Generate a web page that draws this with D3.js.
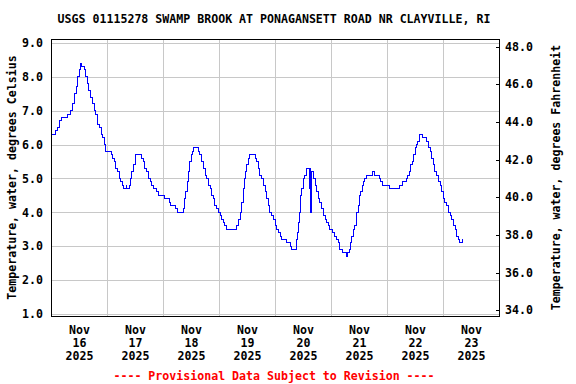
<!DOCTYPE html>
<html lang="en">
<head>
  <meta charset="UTF-8">
  <title>USGS 01115278 Swamp Brook water temperature</title>
  <style>
    body {
      margin: 0;
      background: #fff;
    }
    svg text {
      font-family: "DejaVu Sans Mono", monospace;
      font-weight: bold;
      font-size: 11.6px;
      fill: #000;
    }
    .grid line {
      stroke: #c8c8c8;
      stroke-width: 1;
      shape-rendering: crispEdges;
    }
    .axis path, .axis line {
      stroke: #000;
      shape-rendering: crispEdges;
    }
  </style>
</head>
<body>
  <div id="chart"></div>

  <script src="https://d3js.org/d3.v7.min.js"></script>
  <script>
    // readings, hours after Nov 16 2025 00:00, and water temperature in deg C
    const hoursFromStart = [
      0, 0.25, 1.75, 2.75, 3.5, 3.75, 4.5, 7.25, 8.5, 9.25, 10, 10.75, 11.5, 12, 12.75,
      13.25, 14.25, 14.75, 15.75, 16.25, 17, 17.75, 18.5, 19.25, 19.75, 20.75, 21.5, 22.25,
      22.75, 23.5, 25.75, 26.5, 27, 27.75, 28.5, 29.25, 29.75, 30.5, 31.25, 32.25, 32.5,
      33.5, 34.25, 34.5, 35.25, 36.25, 38.75, 39.75, 40.25, 41, 41.75, 42.5, 43.25, 43.75,
      45, 46, 48.75, 50.75, 51.25, 53.25, 54.25, 56.75, 57.25, 57.75, 58.5, 58.75, 59.5,
      60.25, 60.75, 61.25, 63, 63.75, 64.5, 65.25, 66, 66.75, 67.5, 68.25, 68.75, 69.5,
      70.25, 71, 71.75, 72.5, 73.25, 73.75, 74.5, 75.25, 79.5, 80.25, 81, 81.75, 82.5,
      82.75, 83.5, 83.75, 84.5, 85.25, 87.5, 88.25, 88.75, 89.5, 90.25, 91, 91.75, 92.5,
      93.25, 93.75, 94.5, 95.25, 96, 96.75, 97.5, 98.25, 98.75, 101, 102.5, 103.25, 105,
      105.5, 106, 106.5, 107, 107.5, 108.25, 108.75, 109.5, 110.75, 111, 111.25, 111.5,
      112.5, 113.25, 113.75, 114.5, 115.25, 116, 116.75, 117.5, 118.25, 118.75, 119.5,
      120.75, 121.5, 122.25, 123.25, 123.75, 125, 126.5, 127.25, 127.75, 128.5, 128.75,
      129.5, 130, 130.75, 131, 131.75, 132.25, 132.75, 133.5, 133.75, 134.5, 135.25,
      137.75, 138.75, 140.75, 141.25, 142, 145, 149.25, 150.75, 152.25, 152.75, 153.5,
      154.25, 154.75, 155.25, 156, 156.75, 157.25, 157.75, 159.25, 161, 161.75, 162.5,
      163.25, 163.75, 164.5, 165.25, 166, 166.75, 167.5, 168.25, 168.75, 169.5, 170.25,
      171, 171.75, 172.5, 173.25, 173.75, 174.5, 175.25, 176.25
    ];
    const tempC = [
      6.2, 6.3, 6.4, 6.5, 6.6, 6.7, 6.8, 6.9, 7.0, 7.2, 7.5, 7.7, 8.0, 8.2, 8.4,
      8.3, 8.2, 8.0, 7.8, 7.6, 7.4, 7.2, 7.0, 6.9, 6.6, 6.5, 6.3, 6.2,
      6.0, 5.8, 5.7, 5.6, 5.5, 5.3, 5.2, 5.0, 4.9, 4.8, 4.7, 4.8, 4.7,
      4.8, 5.0, 5.2, 5.4, 5.7, 5.6, 5.5, 5.3, 5.2, 5.0, 4.9, 4.8, 4.7,
      4.6, 4.5, 4.4, 4.3, 4.2, 4.1, 4.0, 4.1, 4.4, 4.6, 4.9, 5.2, 5.5,
      5.7, 5.8, 5.9, 5.8, 5.7, 5.5, 5.3, 5.1, 5.0, 4.8, 4.7, 4.5, 4.4,
      4.2, 4.1, 4.0, 3.9, 3.8, 3.7, 3.6, 3.5, 3.6, 3.8, 4.0, 4.3, 4.7,
      5.0, 5.2, 5.4, 5.6, 5.7, 5.6, 5.5, 5.3, 5.1, 5.0, 4.8, 4.6, 4.4,
      4.2, 4.0, 3.9, 3.8, 3.6, 3.5, 3.4, 3.3, 3.2, 3.1, 3.0, 2.9, 3.2,
      3.4, 3.7, 4.0, 4.5, 4.7, 5.0, 5.1, 5.3, 4.7, 5.3, 4.0, 5.2,
      5.0, 4.8, 4.6, 4.4, 4.3, 4.1, 3.9, 3.8, 3.7, 3.6, 3.5,
      3.4, 3.3, 3.2, 3.1, 2.9, 2.8, 2.7, 2.8, 2.9, 3.1, 3.3,
      3.5, 3.6, 3.8, 4.0, 4.2, 4.5, 4.6, 4.8, 4.9, 5.0, 5.1,
      5.2, 5.1, 5.0, 4.9, 4.8, 4.7, 4.8, 4.9, 5.0, 5.1, 5.2,
      5.4, 5.5, 5.7, 5.9, 6.0, 6.1, 6.3, 6.2, 6.1, 5.9, 5.8,
      5.6, 5.4, 5.2, 5.1, 4.9, 4.8, 4.6, 4.4, 4.3, 4.2, 4.0,
      3.9, 3.8, 3.6, 3.5, 3.3, 3.2, 3.1, 3.2
    ];

    const startDate = new Date(2025, 10, 16);
    const endDate = new Date(2025, 10, 24);
    const dayLabels = ["16", "17", "18", "19", "20", "21", "22", "23"];
    const celsiusTicks = [1, 2, 3, 4, 5, 6, 7, 8, 9];
    const fahrenheitTicks = [34, 36, 38, 40, 42, 44, 46, 48];

    const title = "USGS 01115278 SWAMP BROOK AT PONAGANSETT ROAD NR CLAYVILLE, RI";
    const leftLabel = "Temperature, water, degrees Celsius";
    const rightLabel = "Temperature, water, degrees Fahrenheit";
    const footer = "---- Provisional Data Subject to Revision ----";

    const width = 576, height = 384;
    const plotLeft = 51, plotRight = 499, plotTop = 39, plotBottom = 316;

    const svg = d3.select("#chart").append("svg")
      .attr("width", width)
      .attr("height", height);

    const x = d3.scaleTime().domain([startDate, endDate]).range([plotLeft, plotRight]);
    const y = d3.scaleLinear().domain([0.941, 9.113]).range([plotBottom, plotTop]);
    const toF = c => c * 9 / 5 + 32;
    const yF = d3.scaleLinear().domain(y.domain().map(toF)).range([plotBottom, plotTop]);

    const points = hoursFromStart.map((h, i) => ({
      date: new Date(startDate.getTime() + h * 3600e3),
      value: tempC[i]
    }));

    const midnights = d3.timeDay.range(d3.timeDay.offset(startDate, 1), endDate);
    const noons = dayLabels.map((d, i) => d3.timeHour.offset(startDate, 24 * i + 12));

    // grid
    const grid = svg.append("g").attr("class", "grid");
    grid.selectAll(".h").data(celsiusTicks).enter().append("line")
      .attr("x1", plotLeft).attr("x2", plotRight)
      .attr("y1", d => Math.round(y(d)) + 0.5).attr("y2", d => Math.round(y(d)) + 0.5);
    grid.selectAll(".v").data(midnights).enter().append("line")
      .attr("x1", d => Math.round(x(d)) + 0.5).attr("x2", d => Math.round(x(d)) + 0.5)
      .attr("y1", plotTop).attr("y2", plotBottom);

    // data line
    const line = d3.line()
      .x(d => x(d.date))
      .y(d => y(d.value))
      .curve(d3.curveStepAfter);

    svg.append("path")
      .datum(points)
      .attr("fill", "none")
      .attr("stroke", "#0000ff")
      .attr("stroke-width", 1)
      .attr("shape-rendering", "crispEdges")
      .attr("d", line);

    // frame
    svg.append("rect")
      .attr("x", plotLeft + 0.5).attr("y", plotTop + 0.5)
      .attr("width", plotRight - plotLeft).attr("height", plotBottom - plotTop)
      .attr("fill", "none")
      .attr("stroke", "#000")
      .attr("stroke-width", 1)
      .attr("shape-rendering", "crispEdges");

    // left axis
    const yAxis = svg.append("g")
      .attr("class", "axis")
      .attr("transform", `translate(${plotLeft},0)`)
      .call(d3.axisLeft(y).tickValues(celsiusTicks).tickSize(0).tickPadding(8)
        .tickFormat(d3.format(".1f")));
    yAxis.select(".domain").remove();

    // right axis, Fahrenheit
    const fAxis = svg.append("g")
      .attr("class", "axis")
      .attr("transform", `translate(${plotRight + 0.5},0)`)
      .call(d3.axisRight(yF).tickValues(fahrenheitTicks).tickSize(-4)
        .tickFormat(d3.format(".1f")));
    fAxis.select(".domain").remove();
    fAxis.selectAll("text").attr("x", 5.5);

    // bottom axis, three line labels
    const xAxis = svg.append("g")
      .attr("class", "axis")
      .attr("transform", `translate(0,${plotBottom})`)
      .call(d3.axisBottom(x).tickValues(noons).tickSize(0).tickFormat(""));
    xAxis.select(".domain").remove();
    xAxis.selectAll(".tick").each(function(d, i) {
      const t = d3.select(this).append("text")
        .attr("text-anchor", "middle")
        .attr("y", 17.5);
      ["Nov", dayLabels[i], "2025"].forEach((s, k) => {
        t.append("tspan").attr("x", 0).attr("dy", k === 0 ? 0 : 13).text(s);
      });
    });

    // titles
    svg.append("text")
      .attr("x", 274).attr("y", 23)
      .attr("text-anchor", "middle")
      .text(title);

    svg.append("text")
      .attr("transform", `translate(16,${(plotTop + plotBottom) / 2}) rotate(-90)`)
      .attr("text-anchor", "middle")
      .text(leftLabel);

    svg.append("text")
      .attr("transform", `translate(560,${(plotTop + plotBottom) / 2}) rotate(-90)`)
      .attr("text-anchor", "middle")
      .text(rightLabel);

    svg.append("text")
      .attr("x", 274).attr("y", 380)
      .attr("text-anchor", "middle")
      .style("fill", "#ff0000")
      .text(footer);
  </script>
</body>
</html>
